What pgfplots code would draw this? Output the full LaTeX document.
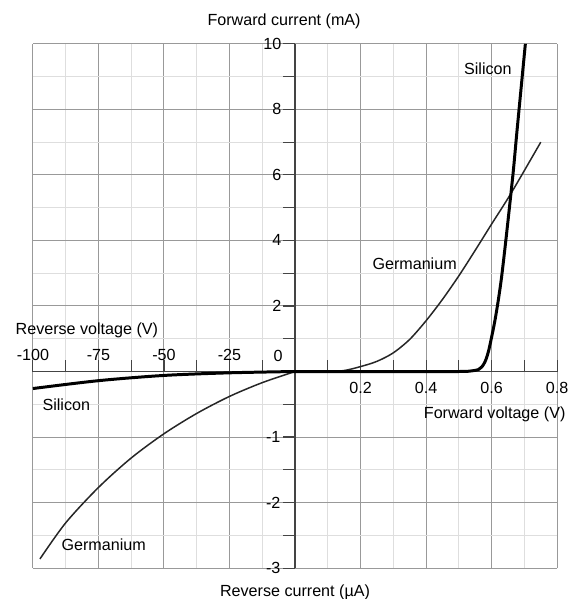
\documentclass[border=0pt]{standalone}
\usepackage{fontspec}
\setmainfont{Liberation Sans}
\usepackage{pgfplots}
\usepackage{pgfplotstable}
\pgfplotsset{compat=1.18}

% forward quadrant: V in volts, I in mA
\pgfplotstableread{
v i
0 0
0.1 0.0
0.15 0.03
0.2 0.15
0.25 0.31
0.3 0.57
0.35 0.98
0.4 1.55
0.45 2.2
0.5 2.92
0.55 3.7
0.6 4.5
0.66 5.45
0.75 7.0
}\gefwd
\pgfplotstableread{
v i
0 0
0.3 0
0.5 0.0
0.54 0.02
0.56 0.06
0.57 0.14
0.58 0.3
0.59 0.6
0.60 1.05
0.61 1.55
0.62 2.15
0.63 2.85
0.64 3.7
0.65 4.6
0.666 6.1
0.678 7.4
0.703 10
}\sifwd
% reverse quadrant: V in volts, I in uA
\pgfplotstableread{
v i
0 0
-12.5 -0.17
-25 -0.38
-37.5 -0.64
-50 -0.95
-62.5 -1.32
-75 -1.77
-87.5 -2.31
-97.3 -2.86
}\gerev
\pgfplotstableread{
v i
0 0
-25 -0.02
-50 -0.06
-75 -0.14
-100 -0.26
}\sirev

\definecolor{txt}{HTML}{1A1A1A}
\definecolor{axl}{HTML}{444444}

\begin{document}
\fontsize{9.7}{11.6}\selectfont
\begin{tikzpicture}
\begin{axis}[
  x=39.45pt, y=39.45pt,
  xmin=-4, xmax=4, ymin=-3, ymax=5,
  axis lines=middle,
  axis line style={draw=axl, line width=0.9pt, -},
  xtick={-4,...,4}, ytick={-3,...,5},
  minor tick num=1,
  xticklabels={}, yticklabels={},
  grid=both,
  major grid style={draw=black!40, line width=0.6pt},
  minor grid style={draw=black!13, line width=0.6pt},
  tick align=center,
  major tick length=7pt, minor tick length=7pt,
  tick style={draw=axl, line width=0.7pt},
  x tick style={yshift=3.5pt},
  y tick style={xshift=-3.5pt},
  clip=false,
  every node/.style={text=txt, font=\fontsize{9.7}{11.6}\selectfont},
]
\addplot[black!85, line width=0.9pt, smooth, tension=0.5]
  table[x expr=\thisrow{v}/0.2, y expr=\thisrow{i}/2] {\gefwd};
\addplot[black!85, line width=0.9pt, smooth, tension=0.5]
  table[x expr=\thisrow{v}/25, y expr=\thisrow{i}] {\gerev};
\addplot[black, line width=1.8pt, smooth, tension=0.5]
  table[x expr=\thisrow{v}/0.2, y expr=\thisrow{i}/2] {\sifwd};
\addplot[black, line width=1.8pt, smooth, tension=0.5]
  table[x expr=\thisrow{v}/25, y expr=\thisrow{i}] {\sirev};

% tick labels
\node at ([yshift=10.2pt]axis cs:-4,0) {-100};
\node at ([yshift=10.2pt]axis cs:-3,0) {-75};
\node at ([yshift=10.2pt]axis cs:-2,0) {-50};
\node at ([yshift=10.2pt]axis cs:-1,0) {-25};
\node at ([xshift=-10.2pt,yshift=9.6pt]axis cs:0,0) {0};
\node at ([yshift=-9.9pt]axis cs:1,0) {0.2};
\node at ([yshift=-9.9pt]axis cs:2,0) {0.4};
\node at ([yshift=-9.9pt]axis cs:3,0) {0.6};
\node at ([yshift=-9.9pt]axis cs:4,0) {0.8};
\node[anchor=east] at ([xshift=-4.8pt]axis cs:0,5) {10};
\node[anchor=east] at ([xshift=-4.8pt]axis cs:0,4) {8};
\node[anchor=east] at ([xshift=-4.8pt]axis cs:0,3) {6};
\node[anchor=east] at ([xshift=-4.8pt]axis cs:0,2) {4};
\node[anchor=east] at ([xshift=-4.8pt]axis cs:0,1) {2};
\node[anchor=east] at ([xshift=-5.4pt]axis cs:0,-1) {-1};
\node[anchor=east] at ([xshift=-5.4pt]axis cs:0,-2) {-2};
\node[anchor=east] at ([xshift=-5.4pt]axis cs:0,-3) {-3};

% axis titles
\node at ([xshift=-6.6pt,yshift=13.5pt]axis cs:0,5) {Forward current (mA)};
\node at ([yshift=-14.4pt]axis cs:0,-3) {Reverse current (µA)};
\node[anchor=west] at ([xshift=-13.8pt,yshift=24.6pt]axis cs:-4,0) {Reverse voltage (V)};
\node[anchor=east] at ([xshift=8.4pt,yshift=-25.8pt]axis cs:4,0) {Forward voltage (V)};

% curve labels
\node at (axis cs:2.943,4.62) {Silicon};
\node at (axis cs:1.825,1.643) {Germanium};
\node at (axis cs:-3.49,-0.502) {Silicon};
\node at (axis cs:-2.92,-2.646) {Germanium};

\coordinate (bl) at (axis cs:-4,-3);
\coordinate (tr) at (axis cs:4,5);
\end{axis}
\pgfresetboundingbox
\path[use as bounding box] ([xshift=-19.8pt,yshift=-18.6pt]bl) rectangle ([xshift=9.6pt,yshift=26.4pt]tr);
\end{tikzpicture}
\end{document}
